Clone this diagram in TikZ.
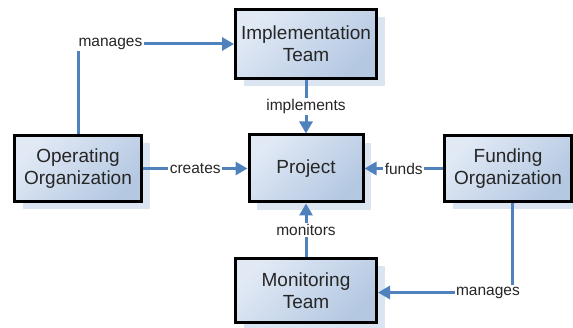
\documentclass[tikz,border=0pt]{standalone}
\usepackage{fontspec}
\setmainfont{Liberation Sans}
\usetikzlibrary{shadows,arrows.meta}
\definecolor{lineblue}{HTML}{4F81BD}
\definecolor{boxlight}{HTML}{E1E9F5}
\definecolor{boxdark}{HTML}{B4C8E2}
\definecolor{shadowc}{HTML}{DBE5F1}
\definecolor{txt}{HTML}{262626}
\begin{document}
\begin{tikzpicture}[x=1pt,y=-1pt,
  box/.style={draw=black, line width=3pt, top color=boxlight, bottom color=boxdark,
    shading angle=45,
    drop shadow={shadow xshift=8pt, shadow yshift=-8pt, fill=shadowc, opacity=1},
    align=center, font=\fontsize{19}{22}\selectfont, text=txt, inner sep=0pt},
  conn/.style={draw=lineblue, line width=3pt, -{Triangle[length=12pt,width=13pt]}},
  lbl/.style={fill=white, font=\fontsize{15.5}{18}\selectfont, text=txt, inner sep=1.5pt}
]
\useasboundingbox (0,0) rectangle (573,328);
\node[box, minimum width=141pt, minimum height=69pt] (impl) at (306,44) {Implementation\\Team};
\node[box, minimum width=114pt, minimum height=67pt] (proj) at (306,168.5) {Project};
\node[box, minimum width=127pt, minimum height=66pt] (op) at (78,168.5) {Operating\\Organization};
\node[box, minimum width=127pt, minimum height=66pt] (fund) at (508,168.5) {Funding\\Organization};
\node[box, minimum width=141pt, minimum height=64pt] (mon) at (306,290.5) {Monitoring\\Team};
\draw[conn] (op.north) |- node[lbl, pos=0.604]{manages} (impl.west);
\draw[conn] (impl.south) -- node[lbl]{implements} (proj.north);
\draw[conn] (op.east) -- node[lbl]{creates} (proj.west);
\draw[conn] (fund.west) -- node[lbl]{funds} (proj.east);
\draw[conn] (mon.north) -- node[lbl]{monitors} (proj.south);
\draw[conn] ([xshift=4pt]fund.south) |- node[lbl, pos=0.59]{manages} ([yshift=-2pt]mon.east);
\end{tikzpicture}
\end{document}
